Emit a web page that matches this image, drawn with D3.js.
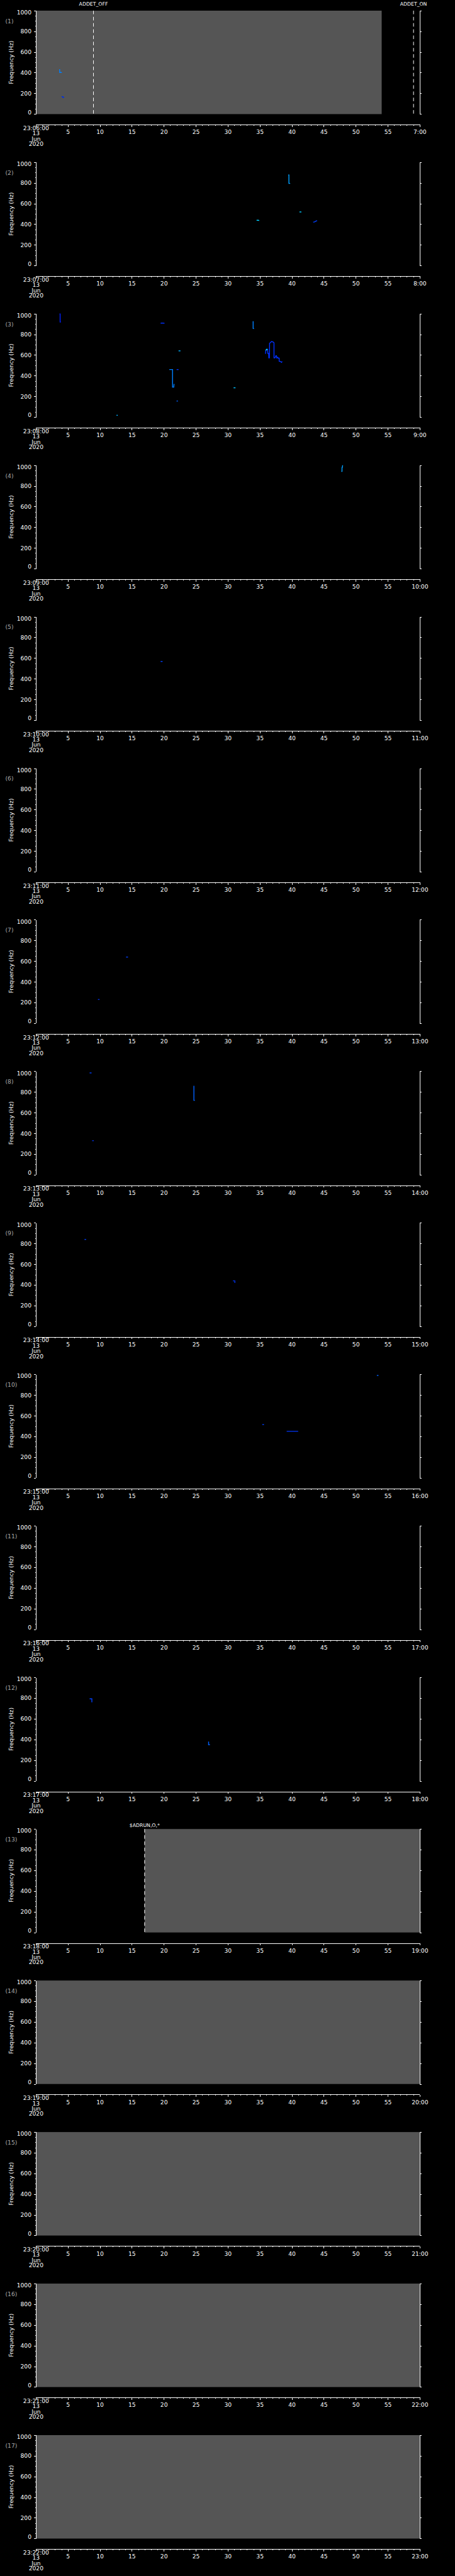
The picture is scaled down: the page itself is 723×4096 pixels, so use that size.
<!DOCTYPE html>
<html>
<head>
<meta charset="utf-8">
<script src="https://cdn.jsdelivr.net/npm/d3@7"></script>
<style>
  html, body { margin: 0; padding: 0; background: #000; }
  svg { display: block; }
  .axis path, .axis line { stroke: #fff; stroke-width: 1.4; shape-rendering: crispEdges; }
  .axis text { fill: #fff; font-family: "DejaVu Sans", sans-serif; font-size: 13px; }
  .lbl { fill: #fff; font-family: "DejaVu Sans", sans-serif; font-size: 13px; }
</style>
</head>
<body>
<svg id="chart"></svg>
<script>
// ---- data ----
const panelStartMinutes = d3.range(6, 23);          // 23:06 ... 23:22, one panel per minute
const dateLines = ['13', 'Jun', '2020'];
const freqTicks = [0, 200, 400, 600, 800, 1000];
const secondTicks = [0, 5, 10, 15, 20, 25, 30, 35, 40, 45, 50, 55, 60];

// intervals without data (drawn grey), seconds within the panel minute
const greyIntervals = [
  { panel: 1, from: 0, to: 54.05 },
  { panel: 13, from: 17.0, to: 60 },
  { panel: 14, from: 0, to: 60 },
  { panel: 15, from: 0, to: 60 },
  { panel: 16, from: 0, to: 60 },
  { panel: 17, from: 0, to: 60 }
];

// mode change markers (dashed lines)
const modeMarkers = [
  { panel: 1, t: 9.0, label: 'ADDET_OFF' },
  { panel: 1, t: 59.03, label: 'ADDET_ON' },
  { panel: 13, t: 17.0, label: '$ADRUN,O,*' }
];

// detected spectral traces: [seconds, Hz]
const traces = [
  { panel: 1, color: '#0080ff', pts: [[3.72, 435], [3.72, 402], [4.05, 402]] },
  { panel: 1, color: '#0030e0', pts: [[4.0, 169], [4.2, 169], [4.2, 162], [4.42, 162]] },

  { panel: 2, color: '#00a0ff', pts: [[39.45, 876], [39.55, 876], [39.55, 795], [39.75, 795]] },
  { panel: 2, color: '#00c8ff', pts: [[41.2, 519], [41.5, 519]] },
  { panel: 2, color: '#0040ff', pts: [[43.35, 419], [43.6, 424], [43.75, 430], [43.96, 435]] },
  { panel: 2, color: '#00d0ff', pts: [[34.5, 438], [34.8, 438], [34.9, 435]] },

  { panel: 3, color: '#0020ff', pts: [[3.7, 998], [3.79, 998], [3.79, 920], [3.9, 920]] },
  { panel: 3, color: '#0030ff', pts: [[19.5, 908], [19.7, 910], [20.1, 908]] },
  { panel: 3, color: '#00b0ff', pts: [[22.3, 641], [22.6, 641]] },
  { panel: 3, color: '#0080ff', pts: [[20.85, 460], [21.36, 460], [21.36, 290], [21.55, 290], [21.6, 321]] },
  { panel: 3, color: '#0030ff', pts: [[22.0, 460], [22.3, 460]] },
  { panel: 3, color: '#0060ff', pts: [[21.99, 156], [22.2, 156]] },
  { panel: 3, color: '#00b0ff', pts: [[12.6, 18], [12.8, 18]] },
  { panel: 3, color: '#0080ff', pts: [[33.96, 928], [33.96, 858], [34.1, 855]] },
  { panel: 3, color: '#0030ff', pts: [[35.88, 612], [35.94, 645], [36.06, 655], [36.22, 655], [36.25, 616],
    [36.39, 616], [36.41, 573], [36.5, 573], [36.53, 715], [36.64, 719], [36.76, 727], [36.83, 731],
    [37.06, 727], [37.22, 719], [37.22, 573], [37.36, 573], [37.45, 583], [37.5, 594], [37.61, 594],
    [37.64, 573], [37.8, 579], [37.85, 570], [38.03, 570], [38.03, 540], [38.26, 538], [38.38, 530], [38.51, 538]] },
  { panel: 3, color: '#00e0ff', pts: [[35.94, 645], [36.06, 655], [36.2, 655]] },
  { panel: 3, color: '#00c0ff', pts: [[30.9, 284], [31.2, 284]] },

  { panel: 4, color: '#00a0ff', pts: [[47.95, 1000], [47.9, 978], [47.85, 978], [47.85, 941], [47.75, 941]] },

  { panel: 5, color: '#0040ff', pts: [[19.5, 568], [19.8, 568]] },

  { panel: 7, color: '#0040ff', pts: [[14.1, 640], [14.4, 640]] },
  { panel: 7, color: '#0030e0', pts: [[9.7, 230], [9.95, 230]] },

  { panel: 8, color: '#0040ff', pts: [[8.4, 985], [8.7, 985]] },
  { panel: 8, color: '#0060ff', pts: [[24.7, 860], [24.7, 720], [24.85, 720]] },
  { panel: 8, color: '#0030e0', pts: [[8.8, 330], [9.05, 330]] },

  { panel: 9, color: '#0040ff', pts: [[7.6, 840], [7.85, 840]] },
  { panel: 9, color: '#0030e0', pts: [[30.8, 440], [31.1, 440], [31.1, 420]] },

  { panel: 10, color: '#0060ff', pts: [[53.3, 990], [53.55, 990]] },
  { panel: 10, color: '#0040ff', pts: [[35.4, 515], [35.65, 515]] },
  { panel: 10, color: '#0030e0', pts: [[39.2, 450], [41.0, 450]] },

  { panel: 12, color: '#0040ff', pts: [[8.4, 794], [8.75, 794], [8.75, 760]] },
  { panel: 12, color: '#0060ff', pts: [[27.0, 380], [27.0, 350], [27.2, 350]] }
];

// ---- layout (reference pixel space, scaled down by viewBox) ----
const W = 1024, H = 5802;
const panelH = H / panelStartMinutes.length;
const plotLeft = 80.7, plotRight = 944.7, plotTop = 24, plotBottom = 257, axisY = 281;

const svg = d3.select('#chart')
  .attr('width', 723).attr('height', 4096)
  .attr('viewBox', `0 0 ${W} ${H}`);

svg.append('rect').attr('width', W).attr('height', H).attr('fill', '#000');

const x = d3.scaleLinear().domain([0, 60]).range([plotLeft, plotRight]);
const y = d3.scaleLinear().domain([0, 1000]).range([plotBottom, plotTop]);
const line = d3.line().x((d) => x(d[0])).y((d) => y(d[1]));

panelStartMinutes.forEach((minute, i) => {
  const panel = i + 1;
  const g = svg.append('g').attr('transform', `translate(0,${i * panelH})`);

  // no-data shading
  greyIntervals.filter((d) => d.panel === panel).forEach((d) => {
    g.append('rect')
      .attr('x', x(d.from)).attr('y', y(1000))
      .attr('width', x(d.to) - x(d.from)).attr('height', y(0) - y(1000))
      .attr('fill', '#555555');
  });

  // traces
  g.append('g').selectAll('path')
    .data(traces.filter((d) => d.panel === panel))
    .join('path')
    .attr('d', (d) => line(d.pts))
    .attr('fill', 'none')
    .attr('stroke', (d) => d.color)
    .attr('stroke-width', 2);

  // mode markers
  modeMarkers.filter((d) => d.panel === panel).forEach((d) => {
    g.append('line')
      .attr('x1', x(d.t)).attr('x2', x(d.t))
      .attr('y1', y(1000)).attr('y2', y(0))
      .attr('stroke', '#fff').attr('stroke-width', 1.4)
      .attr('stroke-dasharray', '8,6');
    g.append('text').attr('class', 'lbl')
      .attr('x', x(d.t)).attr('y', panel === 1 ? 13 : 19)
      .attr('text-anchor', 'middle').style('font-size', '11px')
      .text(d.label);
  });

  // left axis (major + minor)
  const left = g.append('g').attr('class', 'axis').attr('transform', `translate(${plotLeft},0)`);
  left.call(d3.axisLeft(y).tickValues(freqTicks).tickSize(4).tickSizeOuter(0).tickPadding(6).tickFormat(d3.format('d')));
  left.selectAll('.tick text')
    .attr('dy', (d) => (d === 1000 ? '0.62em' : d === 0 ? '-0.02em' : '0.32em'));
  g.append('g').attr('class', 'axis').attr('transform', `translate(${plotLeft},0)`)
    .call(d3.axisLeft(y).tickValues(d3.range(0, 1001, 50)).tickSize(2).tickSizeOuter(0).tickFormat(''));

  // right axis
  g.append('g').attr('class', 'axis').attr('transform', `translate(${plotRight},0)`)
    .call(d3.axisRight(y).tickValues(freqTicks).tickSize(4).tickSizeOuter(0).tickFormat(''));
  g.append('g').attr('class', 'axis').attr('transform', `translate(${plotRight},0)`)
    .call(d3.axisRight(y).tickValues(d3.range(0, 1001, 50)).tickSize(2).tickSizeOuter(0).tickFormat(''));

  // time axis
  const fmt = (s) => (s === 0 ? `23:${String(minute).padStart(2, '0')}:00`
    : s === 60 ? `${minute + 1}:00` : `${s}`);
  const bottom = g.append('g').attr('class', 'axis').attr('transform', `translate(0,${axisY})`);
  bottom.call(d3.axisBottom(x).tickValues(secondTicks).tickSize(5).tickSizeOuter(0).tickPadding(7).tickFormat(fmt));
  g.append('g').attr('class', 'axis').attr('transform', `translate(0,${axisY})`)
    .call(d3.axisBottom(x).tickValues(d3.range(0, 61, 1)).tickSize(2.5).tickSizeOuter(0).tickFormat(''));
  const firstLabel = bottom.selectAll('.tick').filter((d) => d === 0).select('text');
  firstLabel.text(null);
  firstLabel.selectAll('tspan')
    .data([fmt(0), ...dateLines])
    .join('tspan')
    .attr('x', 0)
    .attr('dy', (d, k) => (k === 0 ? 0 : '0.92em'))
    .text((d) => d);

  // y label and panel number
  g.append('text').attr('class', 'lbl')
    .attr('transform', `translate(29,${(plotTop + plotBottom) / 2}) rotate(-90)`)
    .attr('text-anchor', 'middle')
    .text('Frequency (Hz)');
  g.append('text').attr('class', 'lbl')
    .attr('x', 12).attr('y', plotTop + 28)
    .style('fill', '#aaaaaa')
    .text(`(${panel})`);
});
</script>
</body>
</html>
